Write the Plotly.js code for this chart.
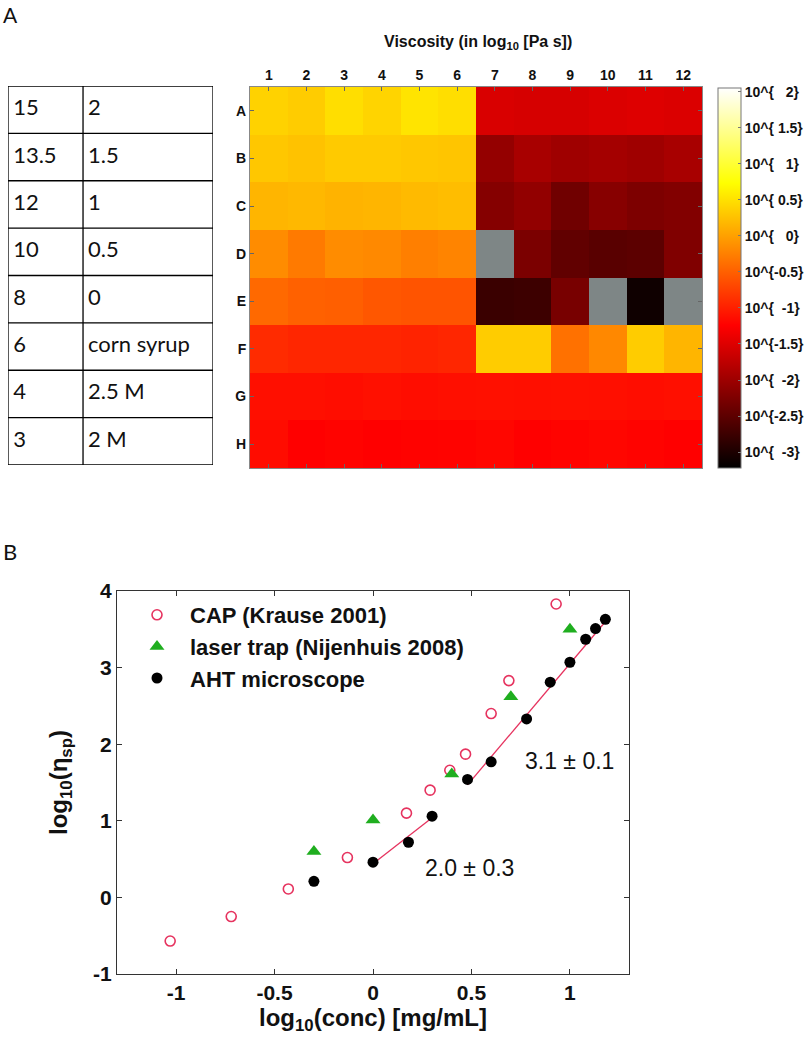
<!DOCTYPE html>
<html>
<head>
<meta charset="utf-8">
<script src="https://cdn.plot.ly/plotly-3.0.1.min.js"></script>
<style>
html,body{margin:0;padding:0;background:#fff;}
#chart{width:810px;height:1043px;}
</style>
</head>
<body>
<div id="chart"></div>
<script>
// ---------- Panel A: heatmap data (log10 viscosity) ----------
const colLabels = [1,2,3,4,5,6,7,8,9,10,11,12];
const rowLabels = ['A','B','C','D','E','F','G','H'];
const rowA = [0.38,0.34,0.48,0.40,0.52,0.48,-1.54,-1.56,-1.56,-1.52,-1.50,-1.52];
const rowB = [0.30,0.26,0.32,0.32,0.30,0.28,-2.07,-1.92,-1.99,-1.95,-1.99,-1.92];
const rowC = [0.16,0.18,0.14,0.16,0.20,0.22,-2.19,-2.09,-2.35,-2.17,-2.25,-2.21];
const rowD = [-0.16,-0.30,-0.16,-0.18,-0.26,-0.22,null,-2.27,-2.47,-2.53,-2.51,-2.23];
const rowE = [-0.43,-0.49,-0.51,-0.57,-0.59,-0.59,-2.77,-2.75,-2.29,null,-3.10,null];
const rowF = [-0.91,-0.95,-0.95,-0.95,-0.97,-0.95,0.34,0.34,-0.37,-0.19,0.34,0.16];
const rowG = [-1.13,-1.13,-1.14,-1.12,-1.14,-1.13,-1.12,-1.13,-1.12,-1.13,-1.14,-1.13];
const rowH = [-1.15,-1.24,-1.22,-1.24,-1.23,-1.22,-1.20,-1.24,-1.22,-1.20,-1.22,-1.24];

const cbTickVals = [2,1.5,1,0.5,0,-0.5,-1,-1.5,-2,-2.5,-3];
const cbTickText = ['10^{   2}','10^{ 1.5}','10^{   1}','10^{ 0.5}','10^{   0}','10^{-0.5}','10^{  -1}','10^{-1.5}','10^{  -2}','10^{-2.5}','10^{  -3}'];

// ---------- Panel A: table ----------
const tableCol1 = ['15','13.5','12','10','8','6','4','3'];
const tableCol2 = ['2','1.5','1','0.5','0','corn syrup','2.5 M','2 M'];

// ---------- Panel B: scatter data ----------
const capX = [-1.03,-0.72,-0.43,-0.13,0.17,0.29,0.39,0.47,0.60,0.69,0.93];
const capY = [-0.57,-0.25,0.11,0.52,1.10,1.40,1.66,1.87,2.40,2.83,3.83];
const trapX = [-0.30,0.00,0.40,0.70,1.00];
const trapY = [0.60,1.01,1.61,2.62,3.50];
const ahtX = [-0.30,0.00,0.18,0.30,0.48,0.60,0.78,0.90,1.00,1.08,1.13,1.18];
const ahtY = [0.21,0.46,0.72,1.06,1.54,1.77,2.33,2.81,3.07,3.37,3.51,3.63];
const fit1X = [0.00,0.30];
const fit1Y = [0.44,1.04];
const fit2X = [0.48,1.20];
const fit2Y = [1.47,3.66];
const xTicks = [-1,-0.5,0,0.5,1];
const xTickText = ['-1','-0.5','0','0.5','1'];
const yTicks = [-1,0,1,2,3,4];
const yTickText = ['-1','0','1','2','3','4'];

// ---------- build ----------
const W = 810, H = 1043;
const px = v => v / W;
const py = v => 1 - v / H;
const FONT = '"Liberation Sans", Arial, sans-serif';
const TFONT = 'Lato, "Open Sans", sans-serif';
const nb = s => s.replace(/ /g, '\u00a0');

const z = [rowA,rowB,rowC,rowD,rowE,rowF,rowG,rowH];
const nanMask = z.map(r => r.map(v => v === null ? 1 : null));

const hot = [[0,'#000000'],[0.375,'#ff0000'],[0.75,'#ffff00'],[1,'#ffffff']];

const traces = [];
traces.push({
  type:'heatmap', x: colLabels, y: rowLabels, z: nanMask,
  colorscale:[[0,'#7e8686'],[1,'#7e8686']], showscale:false, hoverinfo:'skip',
  xaxis:'x', yaxis:'y'
});
traces.push({
  type:'heatmap', x: colLabels, y: rowLabels, z: z,
  colorscale: hot, zmin:-3.22, zmax:2.05, xaxis:'x', yaxis:'y',
  colorbar:{
    x: px(718), xanchor:'left', y: py(278), yanchor:'middle',
    thickness: 23, thicknessmode:'pixels', len: 380, lenmode:'pixels',
    xpad:0, ypad:0, outlinewidth:1, outlinecolor:'#777',
    tickvals: cbTickVals, ticktext: cbTickText.map(nb),
    ticks:'inside', ticklen:3, tickcolor:'#777',
    tickfont:{family:FONT, size:14, weight:'bold', color:'#111'}
  }
});

// table as text on its own axes
const rowIdx = tableCol1.map((_, i) => i + 0.5);
traces.push({
  type:'scatter', mode:'text', x: tableCol1.map(() => 0.025), y: rowIdx,
  text: tableCol1, textposition:'middle right',
  textfont:{family:TFONT, size:22, color:'#111'},
  xaxis:'x3', yaxis:'y3', showlegend:false, hoverinfo:'skip'
});
traces.push({
  type:'scatter', mode:'text', x: tableCol2.map(() => 0.39), y: rowIdx,
  text: tableCol2, textposition:'middle right',
  textfont:{family:TFONT, size:22, color:'#111'},
  xaxis:'x3', yaxis:'y3', showlegend:false, hoverinfo:'skip'
});

// panel B
const pink = '#e6335f', green = '#1fae1f';
traces.push({type:'scatter', mode:'lines', x: fit1X, y: fit1Y, line:{color:pink, width:1.3},
  xaxis:'x2', yaxis:'y2', showlegend:false, hoverinfo:'skip'});
traces.push({type:'scatter', mode:'lines', x: fit2X, y: fit2Y, line:{color:pink, width:1.3},
  xaxis:'x2', yaxis:'y2', showlegend:false, hoverinfo:'skip'});
traces.push({type:'scatter', mode:'markers', name:'CAP (Krause 2001)', x: capX, y: capY,
  marker:{symbol:'circle-open', size:10, color:pink, line:{width:1.6, color:pink}},
  xaxis:'x2', yaxis:'y2', legendgroup:'a'});
traces.push({type:'scatter', mode:'markers', name:'laser trap (Nijenhuis 2008)', x: trapX, y: trapY,
  marker:{symbol:'triangle-up', size:13, color:green},
  xaxis:'x2', yaxis:'y2', legendgroup:'b'});
traces.push({type:'scatter', mode:'markers', name:'AHT microscope', x: ahtX, y: ahtY,
  marker:{symbol:'circle', size:11, color:'#000'},
  xaxis:'x2', yaxis:'y2', legendgroup:'c'});

// table grid lines derived from row count
const shapes = [];
for (let i = 0; i <= tableCol1.length; i++) {
  shapes.push({type:'line', xref:'x3', yref:'y3', x0:0, x1:1, y0:i, y1:i, line:{color:'#000', width:1.3}});
}
[0, 0.366, 1].forEach(xv => shapes.push({type:'line', xref:'x3', yref:'y3', x0:xv, x1:xv, y0:0, y1:tableCol1.length, line:{color:'#000', width:1.3}}));

const boldTick = size => ({family:FONT, size:size, weight:'bold', color:'#111'});

const layout = {
  width: W, height: H,
  margin:{l:0, r:0, t:0, b:0},
  paper_bgcolor:'#fff', plot_bgcolor:'rgba(0,0,0,0)',
  font:{family:FONT, color:'#111'},
  showlegend:true,
  xaxis:{domain:[px(250), px(702)], range:[0.5,12.5], side:'top', tickvals: colLabels,
    ticks:'inside', ticklen:4, tickcolor:'#666', showline:true, linecolor:'#888', linewidth:1, mirror:'ticks',
    showgrid:false, zeroline:false, tickfont: boldTick(14), anchor:'y', fixedrange:true},
  yaxis:{domain:[py(468), py(87)], type:'category', categoryorder:'array', categoryarray: rowLabels,
    autorange:'reversed', ticks:'inside', ticklen:4, tickcolor:'#666', showline:true, linecolor:'#888',
    linewidth:1, mirror:'ticks', showgrid:false, zeroline:false, tickfont: boldTick(14), anchor:'x', fixedrange:true},
  xaxis3:{domain:[px(8), px(213)], range:[0,1], visible:false, anchor:'y3', fixedrange:true},
  yaxis3:{domain:[py(465), py(86)], range:[8,0], visible:false, anchor:'x3', fixedrange:true},
  xaxis2:{domain:[px(117), px(629)], range:[-1.3,1.3], tickvals: xTicks, ticktext: xTickText,
    ticks:'inside', ticklen:5, tickcolor:'#333', showline:true, linecolor:'#333', linewidth:1.2, mirror:'ticks',
    showgrid:false, zeroline:false, tickfont: boldTick(21), anchor:'y2',
    title:{text:'log<sub>10</sub>(conc) [mg/mL]', font:{family:FONT, size:24, weight:'bold', color:'#111'}, standoff:2}},
  yaxis2:{domain:[py(974), py(591)], range:[-1,4], tickvals: yTicks, ticktext: yTickText,
    ticks:'inside', ticklen:5, tickcolor:'#333', showline:true, linecolor:'#333', linewidth:1.2, mirror:'ticks',
    showgrid:false, zeroline:false, tickfont: boldTick(21), anchor:'x2',
    title:{text:'log<sub>10</sub>(η<sub>sp</sub>)', font:{family:FONT, size:24, weight:'bold', color:'#111'}, standoff:18}},
  legend:{x: px(124), y: py(594), xanchor:'left', yanchor:'top', bgcolor:'rgba(0,0,0,0)',
    font:{family:FONT, size:22, weight:'bold', color:'#111'}, traceorder:'grouped', tracegroupgap:0,
    itemwidth:56},
  shapes: shapes,
  annotations:[
    {text:'Viscosity (in log<sub>10</sub> [Pa s])', xref:'paper', yref:'paper', x: px(478), y: py(31),
      showarrow:false, font:{family:FONT, size:16, weight:'bold', color:'#111'}},
    {text:'A', xref:'paper', yref:'paper', x: px(1), y: py(0), xanchor:'left', yanchor:'top',
      showarrow:false, font:{family:TFONT, size:21, color:'#111'}},
    {text:'B', xref:'paper', yref:'paper', x: px(1), y: py(536), xanchor:'left', yanchor:'top',
      showarrow:false, font:{family:TFONT, size:22, color:'#111'}},
    {text:'3.1 ± 0.1', xref:'x2', yref:'y2', x:1.0, y:1.78, showarrow:false,
      font:{family:FONT, size:23, color:'#111'}},
    {text:'2.0 ± 0.3', xref:'x2', yref:'y2', x:0.49, y:0.38, showarrow:false,
      font:{family:FONT, size:23, color:'#111'}}
  ]
};

Plotly.newPlot('chart', traces, layout, {staticPlot:true, displayModeBar:false});
</script>
</body>
</html>
